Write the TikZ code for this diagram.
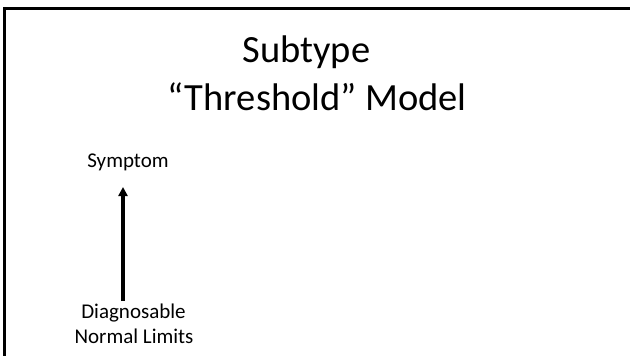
\documentclass[tikz,border=0pt]{standalone}
\usepackage{fontspec}
\setmainfont{Carlito}
\usetikzlibrary{arrows.meta}
\begin{document}
\begin{tikzpicture}[x=1pt,y=-1pt,
  title/.style={font=\fontsize{38.5}{46}\selectfont, inner sep=0pt, anchor=base},
  lbl/.style={font=\fontsize{21}{25}\selectfont, inner sep=0pt, anchor=base},
  arr/.style={line width=3.2pt, -{Triangle[length=9pt,width=9pt]}}]
\useasboundingbox (0,0) rectangle (630,356);
\draw[line width=2.6pt] (4.7,370) -- (4.7,8.7) -- (640,8.7);
\node[title] (t1) at (306.5,62) {Subtype};
\node[title] (t2) at (317,110) {“Threshold” Model};
\node[lbl] (sym) at (128,167) {Symptom};
\node[lbl] (dg) at (133.5,318) {Diagnosable};
\node[lbl] (nl) at (134,343) {Normal Limits};
\coordinate (a0) at (123,301);
\coordinate (a1) at (123,187);
\draw[arr] (a0) -- (a1);
\end{tikzpicture}
\end{document}
